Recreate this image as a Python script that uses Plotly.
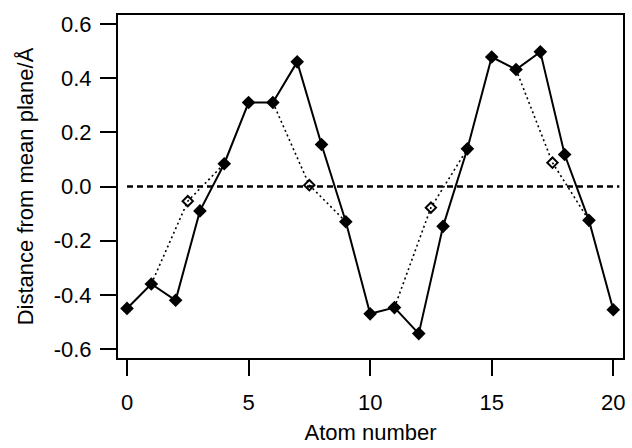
import plotly.graph_objects as go

atom = list(range(21))
dist = [-0.45, -0.36, -0.42, -0.09, 0.084, 0.31, 0.31, 0.46, 0.155, -0.13,
        -0.47, -0.447, -0.543, -0.147, 0.139, 0.478, 0.432, 0.497, 0.118, -0.125, -0.455]

alt_x = [1, 2.5, 4, None, 6, 7.5, 9, None, 11, 12.5, 14, None, 16, 17.5, 19]
alt_y = [-0.36, -0.054, 0.084, None, 0.31, 0.005, -0.13, None, -0.447, -0.078, 0.139, None, 0.432, 0.088, -0.125]
mid_x = [2.5, 7.5, 12.5, 17.5]
mid_y = [-0.054, 0.005, -0.078, 0.088]

zero_x = [0, 20.25]
zero_y = [0, 0]

x_ticks = [0, 5, 10, 15, 20]
y_ticks = [-0.6, -0.4, -0.2, 0.0, 0.2, 0.4, 0.6]
y_labels = ["-0.6", "-0.4", "-0.2", "0.0", "0.2", "0.4", "0.6"]

fig = go.Figure()
fig.add_trace(go.Scatter(x=zero_x, y=zero_y, mode="lines",
                         line=dict(color="black", width=2.4, dash="6px,4px"),
                         hoverinfo="skip"))
fig.add_trace(go.Scatter(x=alt_x, y=alt_y, mode="lines",
                         line=dict(color="black", width=1.6, dash="2px,3px")))
fig.add_trace(go.Scatter(x=mid_x, y=mid_y, mode="markers",
                         marker=dict(symbol="diamond-open", size=8, color="black",
                                     line=dict(width=2, color="black"))))
fig.add_trace(go.Scatter(x=atom, y=dist, mode="lines+markers",
                         line=dict(color="black", width=2),
                         marker=dict(symbol="diamond", size=10.5, color="black")))

font = dict(family="Liberation Sans, Arial, sans-serif", size=22, color="black")
fig.update_layout(
    width=632, height=448,
    margin=dict(l=118, r=7, t=15, b=87),
    paper_bgcolor="white", plot_bgcolor="white",
    showlegend=False,
    font=font,
    xaxis=dict(range=[-0.37, 20.4], tickvals=x_ticks, ticks="outside", ticklen=16,
               tickwidth=2, tickcolor="black", showline=True, linewidth=2,
               linecolor="black", mirror=True, showgrid=False, zeroline=False,
               ticklabelstandoff=8,
               title=dict(text="Atom number", font=font, standoff=10),
               tickfont=font),
    yaxis=dict(range=[-0.633, 0.633], tickvals=y_ticks, ticktext=y_labels,
               ticks="outside", ticklen=16, tickwidth=2, tickcolor="black",
               showline=True, linewidth=2, linecolor="black", mirror=True,
               showgrid=False, zeroline=False, ticklabelstandoff=4,
               title=dict(text="Distance from mean plane/Å", font=font, standoff=14),
               tickfont=font),
)
fig.write_html("out.html", config={"displayModeBar": False},
               post_script="document.body.style.margin='0';")
